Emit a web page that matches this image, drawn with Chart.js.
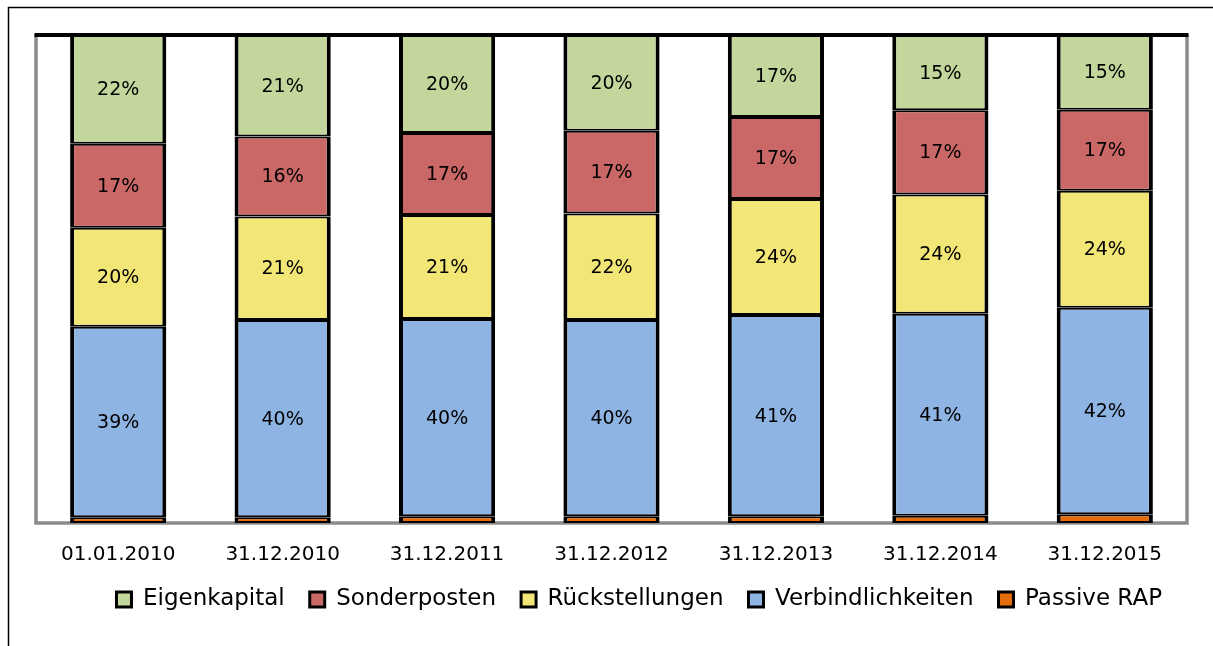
<!DOCTYPE html>
<html>
<head>
<meta charset="utf-8">
<script src="https://cdn.jsdelivr.net/npm/chart.js@4/dist/chart.umd.min.js"></script>
<style>
  html, body { margin: 0; padding: 0; background: #fff; }
  #wrap { width: 1213px; height: 646px; }
</style>
</head>
<body>
<div id="wrap"><canvas id="chart"></canvas></div>
<script>
const labels = ["01.01.2010", "31.12.2010", "31.12.2011", "31.12.2012", "31.12.2013", "31.12.2014", "31.12.2015"];

// shares in percent
const eigenkapital = [22.3, 20.8, 20.1, 19.6, 16.8, 15.4, 15.3];
const sonderposten = [17.2, 16.4, 16.8, 17.0, 16.8, 17.3, 16.6];
const rueckstellungen = [20.3, 21.2, 21.3, 21.8, 23.8, 24.4, 24.0];
const verbindlichkeiten = [39.0, 40.4, 40.4, 40.2, 41.2, 41.4, 42.3];
const passiveRap = [1.2, 1.2, 1.4, 1.4, 1.4, 1.5, 1.8];

const FONT = "'DejaVu Sans', sans-serif";

// frame around the whole picture and the plot box
const framePlugin = {
  id: "frame",
  beforeDraw(chart) {
    const ctx = chart.ctx;
    ctx.save();
    ctx.strokeStyle = "#000";
    ctx.lineWidth = 1.5;
    ctx.strokeRect(8.5, 7.5, 1300, 700);
    ctx.restore();
  },
  beforeDatasetsDraw(chart) {
    const { ctx, chartArea: a } = chart;
    ctx.save();
    ctx.lineWidth = 3.5;
    ctx.strokeStyle = "#8c8c8c";
    ctx.beginPath();
    ctx.moveTo(a.left, a.top);
    ctx.lineTo(a.left, a.bottom);
    ctx.lineTo(a.right, a.bottom);
    ctx.lineTo(a.right, a.top);
    ctx.stroke();
    ctx.strokeStyle = "#000";
    ctx.lineWidth = 4;
    ctx.beginPath();
    ctx.moveTo(a.left - 1.5, a.top);
    ctx.lineTo(a.right + 1.5, a.top);
    ctx.stroke();
    ctx.restore();
  }
};

// percent labels in the middle of each segment (not for Passive RAP)
const valueLabels = {
  id: "valueLabels",
  afterDatasetsDraw(chart) {
    const ctx = chart.ctx;
    ctx.save();
    ctx.font = "19px " + FONT;
    ctx.fillStyle = "#000";
    ctx.textAlign = "center";
    ctx.textBaseline = "middle";
    chart.data.datasets.forEach((ds, i) => {
      if (ds.label === "Passive RAP") return;
      chart.getDatasetMeta(i).data.forEach((bar, j) => {
        const mid = (bar.y + bar.base) / 2;
        ctx.fillText(Math.round(ds.data[j]) + "%", bar.x, mid + 1);
      });
    });
    ctx.restore();
  }
};

const seg = { left: 4, right: 4, top: 2, bottom: 2 };

new Chart(document.getElementById("chart"), {
  type: "bar",
  data: {
    labels: labels,
    datasets: [
      { label: "Passive RAP", data: passiveRap, backgroundColor: "#E46C0A" },
      { label: "Verbindlichkeiten", data: verbindlichkeiten, backgroundColor: "#8EB4E3" },
      { label: "Rückstellungen", data: rueckstellungen, backgroundColor: "#F2E677" },
      { label: "Sonderposten", data: sonderposten, backgroundColor: "#C96866" },
      { label: "Eigenkapital", data: eigenkapital, backgroundColor: "#C3D69B" }
    ].map(d => Object.assign(d, {
      borderColor: "#000",
      borderWidth: seg,
      borderSkipped: false,
      barPercentage: 0.585,
      categoryPercentage: 1
    }))
  },
  options: {
    responsive: true,
    maintainAspectRatio: false,
    animation: false,
    layout: { padding: { left: 36, right: 26, top: 35, bottom: 25 } },
    plugins: {
      legend: {
        position: "bottom",
        align: "end",
        reverse: true,
        labels: {
          font: { family: FONT, size: 23 },
          color: "#000",
          boxWidth: 15,
          boxHeight: 15,
          padding: 25,
          generateLabels(chart) {
            return chart.data.datasets.map((ds, i) => ({
              text: ds.label,
              fillStyle: ds.backgroundColor,
              strokeStyle: "#000",
              lineWidth: 3,
              datasetIndex: i,
              hidden: false
            }));
          }
        }
      },
      tooltip: { enabled: false }
    },
    scales: {
      x: {
        stacked: true,
        grid: { display: false },
        border: { display: false },
        ticks: { font: { family: FONT, size: 20 }, color: "#000", padding: 12 },
        afterFit(scale) { scale.height = 40; }
      },
      y: {
        stacked: true,
        display: false,
        min: 0,
        max: 100
      }
    }
  },
  plugins: [framePlugin, valueLabels]
});
</script>
</body>
</html>
